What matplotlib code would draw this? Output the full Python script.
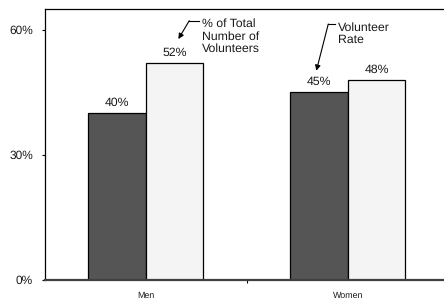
import matplotlib
matplotlib.use('Agg')
import matplotlib.pyplot as plt
from matplotlib import font_manager as fm
import numpy as np

# make sure the regular (not narrow) Liberation Sans is used
reg = [f for f in fm.findSystemFonts() if f.endswith('LiberationSans-Regular.ttf')]
if reg:
    fm.fontManager.addfont(reg[0])
    plt.rcParams['font.family'] = [fm.FontProperties(fname=reg[0]).get_name(), 'DejaVu Sans']
else:
    plt.rcParams['font.family'] = ['Liberation Sans', 'DejaVu Sans']
plt.rcParams['text.hinting'] = 'no_hinting'

groups = ['Men', 'Women']
volunteer_rate = [40, 45]
share_of_total = [52, 48]

fig = plt.figure(figsize=(4.44, 2.98), dpi=100)
ax = fig.add_axes([0.101, 0.0604, 0.91, 0.9094])

x = np.arange(len(groups))
w = 0.285
b1 = ax.bar(x - w / 2, volunteer_rate, w, color='#555555', edgecolor='black', linewidth=0.9)
b2 = ax.bar(x + w / 2, share_of_total, w, color='#f4f4f4', edgecolor='black', linewidth=0.9)

for bars, vals in [(b1, volunteer_rate), (b2, share_of_total)]:
    for r, v in zip(bars, vals):
        ax.text(r.get_x() + r.get_width() / 2, v + 1.2, f'{v}%',
                ha='center', va='bottom', fontsize=8.8, color='#1a1a1a')

ax.set_xlim(-0.5, 1.5)
ax.set_ylim(0, 65)
ax.set_yticks([0, 30, 60])
ax.set_yticklabels(['0%', '30%', '60%'])
ax.tick_params(axis='y', length=2.5, width=0.8, pad=6, labelsize=8.6, labelcolor='#1a1a1a')
ax.set_xticks(x)
ax.set_xticklabels(groups)
ax.tick_params(axis='x', length=0, pad=8, labelsize=6.4, labelcolor='#1a1a1a')
ax.set_xticks([0.5], minor=True)
ax.tick_params(axis='x', which='minor', length=2.5, width=0.8)

for s in ['top', 'left']:
    ax.spines[s].set_linewidth(0.9)
ax.spines['bottom'].set_linewidth(1.6)
ax.spines['bottom'].set_color('#404040')
ax.spines['right'].set_visible(False)

# callouts
ax.text(0.28, 62.7, '% of Total\nNumber of\nVolunteers', fontsize=8.8,
        va='top', ha='left', linespacing=1.15, color='#1a1a1a')
ax.plot([0.262, 0.215], [62.2, 62.2], color='black', lw=0.8)
ax.annotate('', xy=(0.161, 57.8), xytext=(0.215, 62.2),
            arrowprops=dict(arrowstyle='-|>', color='black', lw=0.8,
                            mutation_scale=8, shrinkA=0, shrinkB=0))

ax.text(0.953, 61.9, 'Volunteer\nRate', fontsize=8.8,
        va='top', ha='left', linespacing=1.15, color='#1a1a1a')
ax.plot([0.935, 0.903], [61.4, 61.4], color='black', lw=0.8)
ax.annotate('', xy=(0.844, 50.2), xytext=(0.903, 61.4),
            arrowprops=dict(arrowstyle='-|>', color='black', lw=0.8,
                            mutation_scale=8, shrinkA=0, shrinkB=0))

fig.savefig('out.png', dpi=100)
